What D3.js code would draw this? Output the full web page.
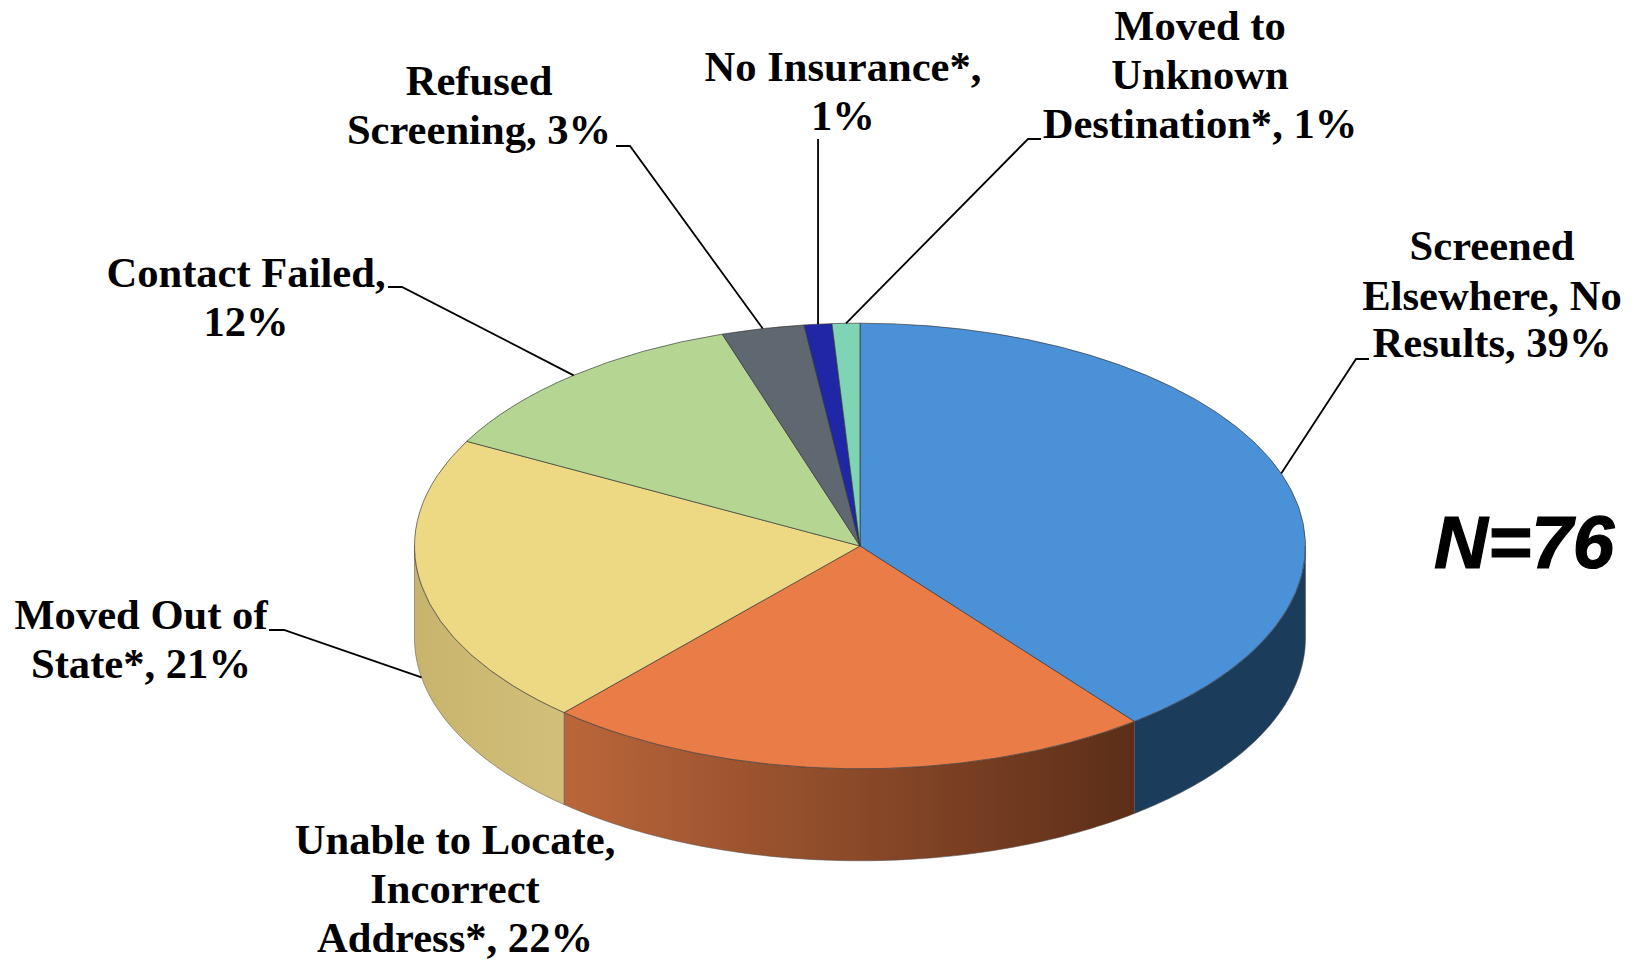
<!DOCTYPE html>
<html>
<head>
<meta charset="utf-8">
<script src="https://cdnjs.cloudflare.com/ajax/libs/d3/7.8.5/d3.min.js"></script>
<style>
html,body{margin:0;padding:0;background:#fff;overflow:hidden}
svg{display:block}
text{font-family:"Liberation Serif",serif;font-weight:700;fill:#000}
</style>
</head>
<body>
<svg id="c" width="1636" height="963"></svg>
<script>
// Data
const categories = ["Screened Elsewhere, No Results","Unable to Locate, Incorrect Address*","Moved Out of State*","Contact Failed","Refused Screening","No Insurance*","Moved to Unknown Destination*"];
const values = [39.4,22.1,21.2,12.2,3,1,1];
const labelLines = [
  ["Screened","Elsewhere, No","Results, 39%"],
  ["Unable to Locate,","Incorrect","Address*, 22%"],
  ["Moved Out of","State*, 21%"],
  ["Contact Failed,","12%"],
  ["Refused","Screening, 3%"],
  ["No Insurance*,","1%"],
  ["Moved to","Unknown","Destination*, 1%"]
];
const annotation = "N=76";

// Styles and layout, kept apart from the data
const topColors = ["#4a91d7","#ea7d47","#edd983","#b5d692","#5f6870","#2027a6","#80d4b6"];
const wallFrom  = ["#1c3c5c","#bb663a","#c8b46d","#8a9e6c","#444444","#181c7a","#5c9a84"];
const wallTo    = ["#1c3c5c","#5c2e18","#d2bf79","#8a9e6c","#444444","#181c7a","#5c9a84"];
const cx=860, cy=546, rx=445.5, ry=222.8, depth=92;
const fontSize=42.6;
const labelPos = [
  {x:1492,ys:[260,310,357]},
  {x:455,ys:[854,903,952]},
  {x:141,ys:[629,678]},
  {x:246,ys:[287,336]},
  {x:479,ys:[95,144]},
  {x:843,ys:[81,130]},
  {x:1200,ys:[40,89,138]}
];
const elbows = [
  {ex:1356,ey:359,tx:1369},
  null,
  {ex:284,ey:630,tx:269},
  {ex:402,ey:287,tx:388},
  {ex:630,ey:146,tx:616},
  {ey:139},
  {ex:1028,ey:139,tx:1041}
];

const svg=d3.select("#c");
const defs=svg.append("defs");
const arcs=d3.pie().sort(null).value(d=>d)(values);

const px=a=>cx+rx*Math.sin(a), py=a=>cy-ry*Math.cos(a);
const frontStart=Math.PI/2, frontEnd=3*Math.PI/2;
const line=d3.line().x(d=>d[0]).y(d=>d[1]);

// side walls
arcs.forEach((d,i)=>{
  const a0=Math.max(d.startAngle,frontStart), a1=Math.min(d.endAngle,frontEnd);
  if(a1<=a0) return;
  const n=80, top=d3.range(n+1).map(k=>{const a=a0+(a1-a0)*k/n;return [px(a),py(a)];});
  const bot=top.slice().reverse().map(p=>[p[0],p[1]+depth]);
  const xs=top.map(p=>p[0]);
  const id="w"+i;
  const g=defs.append("linearGradient").attr("id",id).attr("gradientUnits","userSpaceOnUse")
    .attr("x1",d3.min(xs)).attr("x2",d3.max(xs)).attr("y1",0).attr("y2",0);
  g.append("stop").attr("offset",0).attr("stop-color",wallFrom[i]);
  g.append("stop").attr("offset",1).attr("stop-color",wallTo[i]);
  svg.append("path").attr("d",line(top.concat(bot))+"Z")
    .attr("fill","url(#"+id+")").attr("stroke","#555").attr("stroke-opacity",0.55).attr("stroke-width",1);
});

// top face
const arc=d3.arc().innerRadius(0).outerRadius(rx);
svg.append("g").attr("transform",`translate(${cx},${cy}) scale(1,${ry/rx})`)
  .selectAll("path").data(arcs).join("path")
  .attr("d",arc).attr("fill",(d,i)=>topColors[i])
  .attr("stroke","#333").attr("stroke-opacity",0.65).attr("stroke-width",1)
  .attr("vector-effect","non-scaling-stroke");

// leader lines
arcs.forEach((d,i)=>{
  const e=elbows[i]; if(!e) return;
  const m=(d.startAngle+d.endAngle)/2;
  const inFront=m>frontStart&&m<frontEnd;
  const ax=px(m), ay=py(m)+(inFront?depth:0);
  const pts=e.ex===undefined?[[ax,ay],[ax,e.ey]]:[[ax,ay],[e.ex,e.ey],[e.tx,e.ey]];
  svg.append("path").attr("d",line(pts)).attr("fill","none").attr("stroke","#000").attr("stroke-width",1.8);
});

// labels
labelLines.forEach((ls,i)=>{
  const t=svg.append("text").attr("text-anchor","middle").attr("font-size",fontSize);
  ls.forEach((s,k)=>t.append("tspan").attr("x",labelPos[i].x).attr("y",labelPos[i].ys[k]).text(s));
});

svg.append("text").attr("x",1434).attr("y",568).attr("font-size",74.5)
  .style("font-family",'"Liberation Sans",sans-serif').style("font-style","italic").style("font-weight",700)
  .attr("stroke","#000").attr("stroke-width",1.2)
  .text(annotation);
</script>
</body>
</html>
